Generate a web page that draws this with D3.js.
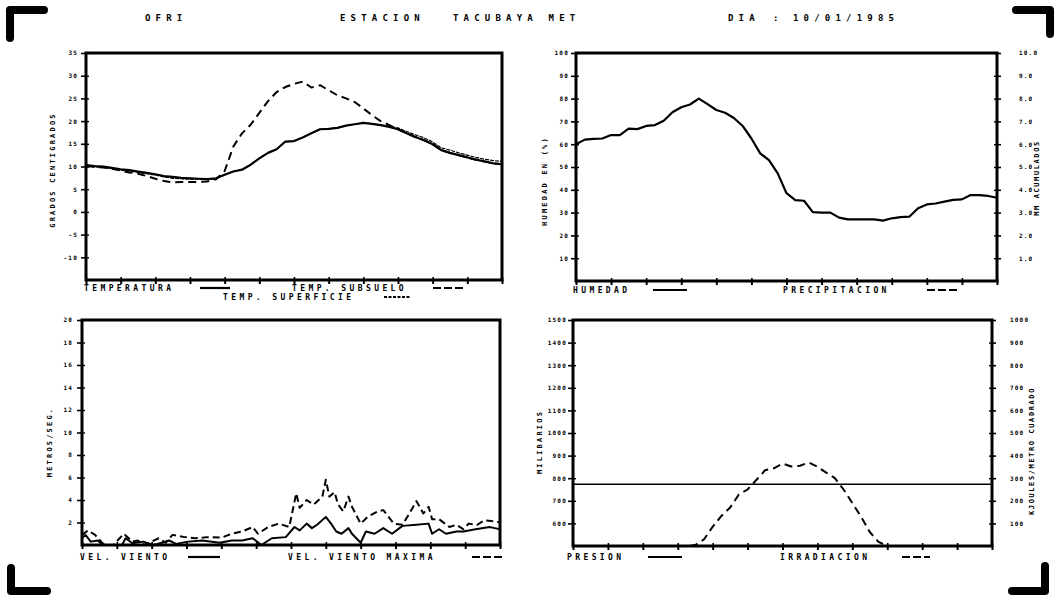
<!DOCTYPE html>
<html><head><meta charset="utf-8">
<script src="https://cdn.jsdelivr.net/npm/d3@7"></script>
<style>
body{margin:0;background:#fff}
svg text{font-family:"DejaVu Sans Mono",monospace;font-weight:bold;fill:#000}
</style></head><body>
<svg id="c" width="1059" height="603"></svg>
<script>
// ---------- DATA ----------
const header = ["OFRI", "ESTACION", "TACUBAYA MET", "DIA", ":", "10/01/1985"];
const hourTicks = [0,2,4,6,8,10,12,14,16,18,20,22,24];
const halfHours = [0,0.5,1,1.5,2,2.5,3,3.5,4,4.5,5,5.5,6,6.5,7,7.5,8,8.5,9,9.5,10,10.5,11,11.5,12,12.5,13,13.5,14,14.5,15,15.5,16,16.5,17,17.5,18,18.5,19,19.5,20,20.5,21,21.5,22,22.5,23,23.5,24];

// Temperatures (°C)
const tempTicks = [35,30,25,20,15,10,5,0,-5,-10];
const temperatura = [10.3,10.1,10.0,9.7,9.4,9.2,8.9,8.6,8.3,7.9,7.7,7.5,7.4,7.3,7.2,7.4,8.2,8.9,9.3,10.4,11.8,13.0,13.8,15.5,15.6,16.4,17.3,18.2,18.3,18.5,19.0,19.3,19.6,19.4,19.1,18.7,18.2,17.3,16.5,15.8,14.9,13.6,13.0,12.5,12.0,11.5,11.1,10.7,10.5];
const tempSuperficie = [10.0,9.9,9.8,9.5,9.2,9.0,8.7,8.4,8.1,7.7,7.4,7.3,7.2,7.2,7.1,7.3,8.2,8.9,9.3,10.4,11.8,13.0,13.8,15.5,15.6,16.4,17.3,18.2,18.3,18.5,19.0,19.3,19.6,19.4,19.1,18.9,18.5,17.7,17.0,16.3,15.4,14.1,13.6,13.0,12.5,12.0,11.6,11.3,11.1];
const tempSubsuelo = [10.1,9.9,9.8,9.5,9.1,8.7,8.4,7.9,7.3,6.8,6.5,6.6,6.6,6.6,6.7,7.2,9.0,14.4,17.3,19.2,21.8,24.4,26.4,27.5,28.2,28.7,27.4,27.9,26.8,25.7,25.0,24.2,22.8,21.3,20.0,19.1,18.2,17.3,16.5,15.8,14.9,13.6,13.0,12.5,12.0,11.5,11.1,10.7,10.5];

// Humidity (%) and precipitation (mm accumulated)
const humTicks = [100,90,80,70,60,50,40,30,20,10];
const precTicks = [10,9,8,7,6,5,4,3,2,1];
const humedad = [60.0,62.0,62.3,62.5,64.0,64.0,66.8,66.6,68.0,68.4,70.3,74.0,76.2,77.4,80.0,77.6,75.0,73.8,71.5,68.0,62.5,56.0,53.0,47.2,38.5,35.5,35.2,30.2,30.0,30.0,27.8,27.0,27.0,27.0,27.0,26.5,27.5,28.0,28.2,31.9,33.6,34.0,34.8,35.6,35.8,37.7,37.7,37.3,36.5];
const precipitacion = []; // no rain recorded

// Wind (m/s)
const windTicks = [20,18,16,14,12,10,8,6,4,2];
const vientoHoras = [0,0.2,0.5,0.9,1.2,2.3,2.5,2.9,3.5,4.1,4.6,5.0,5.4,6.1,6.9,7.9,8.6,9.2,9.8,10.3,10.9,11.7,12.2,12.5,12.9,13.2,13.5,14.0,14.3,14.6,14.9,15.3,15.5,16.0,16.3,16.8,17.3,17.8,18.4,19.2,19.9,20.1,20.5,20.9,21.5,21.9,22.6,23.4,23.7,24];
const velViento = [0.6,0.9,0.3,0.4,0,0,0.6,0.15,0.3,0,0.2,0.4,0.1,0.3,0.4,0.2,0.4,0.4,0.6,0,0.6,0.7,1.6,1.3,1.9,1.5,1.8,2.5,1.9,1.2,1.0,1.5,1.0,0.2,1.2,1.0,1.5,1.0,1.7,1.8,1.9,1.0,1.4,1.0,1.2,1.2,1.4,1.6,1.5,1.4];
const maxHoras = [0,0.35,0.75,1.1,1.3,1.8,2.4,2.9,3.2,3.6,4.4,4.8,5.2,5.9,6.5,7.2,8.0,8.6,9.2,9.8,10.1,10.7,11.3,11.9,12.3,12.5,12.9,13.3,13.8,14.0,14.2,14.5,14.7,15.0,15.3,15.5,16.0,16.4,17.0,17.3,17.9,18.4,18.8,19.2,19.6,19.9,20.1,20.5,21.1,21.5,21.9,22.2,22.7,23.1,23.7,24];
const velMaxima = [0.9,1.3,0.9,0.3,0,0,1.0,0.3,0.4,0,0.6,0.2,0.9,0.7,0.6,0.7,0.65,1.0,1.2,1.6,1.0,1.6,1.9,1.6,4.6,3.3,4.0,3.6,4.3,5.8,4.3,4.7,3.6,3.0,4.3,3.4,1.9,2.5,3.0,3.1,1.9,1.8,2.8,3.9,2.8,3.4,2.3,2.3,1.6,1.8,1.4,1.9,1.8,2.2,2.1,2.0];

// Pressure (mb) and irradiation (kJ/m2)
const presTicks = [1500,1400,1300,1200,1100,1000,900,800,700,600];
const irrTicks = [1000,900,800,700,600,500,400,300,200,100];
const presion = [773,773,773,773,773,773,773,773,773,773,773,773,773];
const irradiacion = [0,0,0,0,0,0,0,0,0,0,0,0,0,0,4,29,85,133,170,228,250,292,335,344,365,352,355,370,351,325,300,250,190,130,62,18,0,0,0,0,0,0,0,0,0,0,0,0,0];

// ---------- DRAW ----------
const svg = d3.select('#c');

function txt(x, y, s, size, ls, anchor) {
  return svg.append('text').attr('x', x).attr('y', y).text(s)
    .attr('font-size', size).attr('letter-spacing', ls)
    .attr('text-anchor', anchor || 'start');
}
function vtxt(x, y, s, size, ls) {
  return svg.append('text').attr('transform', `translate(${x},${y}) rotate(-90)`)
    .attr('text-anchor', 'middle').attr('dominant-baseline', 'central')
    .attr('font-size', size).attr('letter-spacing', ls).text(s);
}

// corner marks
const corners = [
  [[10,38],[10,10],[44,10]],
  [[1016,10],[1050,10],[1050,34]],
  [[11,568],[11,591],[47,591]],
  [[1012,591],[1045,591],[1045,566]]
];
corners.forEach(c => svg.append('path').attr('d', d3.line()(c))
  .attr('fill','none').attr('stroke','#000').attr('stroke-width',8).attr('stroke-linejoin','round').attr('stroke-linecap','round'));

// header
const hx = [145, 340, 453, 728, 773, 793];
header.forEach((h, i) => txt(hx[i], 21, h, 9, 5.2));

function panel(p) {
  const x = d3.scaleLinear().domain([0, 24]).range([p.x0, p.x1]);
  const yL = d3.scaleLinear().domain(p.yDom).range([p.y1, p.y0]);
  // left axis
  const gl = svg.append('g').attr('transform', `translate(${p.x0},0)`)
    .call(d3.axisLeft(yL).tickValues(p.ticks).tickSize(5).tickPadding(p.pad).tickFormat(d => String(d)));
  gl.select('.domain').remove();
  gl.selectAll('line').attr('stroke', '#000').attr('stroke-width', 1.6);
  gl.selectAll('text').attr('font-size', 6).attr('letter-spacing', 1.2)
    .style('font-family', '"DejaVu Sans Mono",monospace').style('font-weight', 'bold');
  // inner small ticks
  const gi = svg.append('g').attr('transform', `translate(${p.x0},0)`)
    .call(d3.axisRight(yL).tickValues(p.ticks).tickSize(3).tickFormat(''));
  gi.select('.domain').remove();
  gi.selectAll('line').attr('stroke', '#000').attr('stroke-width', 1.4);
  let yR = null;
  if (p.rDom) {
    yR = d3.scaleLinear().domain(p.rDom).range([p.y1, p.y0]);
    const gr = svg.append('g').attr('transform', `translate(${p.x1},0)`)
      .call(d3.axisRight(yR).tickValues(p.rTicks).tickSize(4).tickPadding(p.rPad).tickFormat(p.rFmt));
    gr.select('.domain').remove();
    gr.selectAll('line').attr('stroke', '#000').attr('stroke-width', 1.6);
    gr.selectAll('text').attr('font-size', 6).attr('letter-spacing', 1.2)
      .style('font-family', '"DejaVu Sans Mono",monospace').style('font-weight', 'bold');
    const gri = svg.append('g').attr('transform', `translate(${p.x1},0)`)
      .call(d3.axisLeft(yR).tickValues(p.rTicks).tickSize(3).tickFormat(''));
    gri.select('.domain').remove();
    gri.selectAll('line').attr('stroke', '#000').attr('stroke-width', 1.4);
  }
  // bottom axis ticks
  const gb = svg.append('g').attr('transform', `translate(0,${p.y1})`)
    .call(d3.axisBottom(x).tickValues(hourTicks).tickSize(4).tickFormat(''));
  gb.select('.domain').remove();
  gb.selectAll('line').attr('stroke', '#000').attr('stroke-width', 2);
  const gbi = svg.append('g').attr('transform', `translate(0,${p.y1})`)
    .call(d3.axisTop(x).tickValues(hourTicks).tickSize(3).tickFormat(''));
  gbi.select('.domain').remove();
  gbi.selectAll('line').attr('stroke', '#000').attr('stroke-width', 1.6);

  // series
  p.series.forEach(s => {
    const ys = s.right ? yR : yL;
    const pts = d3.zip(s.xs, s.ys);
    if (!pts.length) return;
    svg.append('path').datum(pts)
      .attr('d', d3.line().x(d => x(d[0])).y(d => ys(d[1])))
      .attr('fill', 'none').attr('stroke', '#000')
      .attr('stroke-width', s.w).attr('stroke-dasharray', s.dash || null)
      .attr('stroke-linejoin', 'round');
  });
  // frame
  svg.append('rect').attr('x', p.x0).attr('y', p.y0)
    .attr('width', p.x1 - p.x0).attr('height', p.y1 - p.y0)
    .attr('fill', 'none').attr('stroke', '#000').attr('stroke-width', 3);
  // titles
  vtxt(p.tx, p.ty, p.title, 7, 2.2);
  if (p.rTitle) vtxt(p.rtx, p.rty, p.rTitle, 7, 1.6);
  // legends
  p.legend.forEach(l => {
    txt(l.x, l.y + 3, l.label, 8, 3.4);
    svg.append('line').attr('x1', l.sx0).attr('x2', l.sx1).attr('y1', l.y).attr('y2', l.y)
      .attr('stroke', '#000').attr('stroke-width', 2.2).attr('stroke-dasharray', l.dash || null);
  });
}

panel({
  x0: 86, x1: 502, y0: 53, y1: 280, yDom: [-15, 35], ticks: tempTicks, pad: 3,
  title: 'GRADOS CENTIGRADOS', tx: 53, ty: 170,
  series: [
    { xs: halfHours, ys: tempSuperficie, w: 1.2, dash: '4,1' },
    { xs: halfHours, ys: temperatura, w: 2.2 },
    { xs: halfHours, ys: tempSubsuelo, w: 2, dash: '8,5' }
  ],
  legend: [
    { label: 'TEMPERATURA', x: 84, y: 288, sx0: 200, sx1: 230 },
    { label: 'TEMP. SUBSUELO', x: 292, y: 288, sx0: 433, sx1: 463, dash: '8,3' },
    { label: 'TEMP. SUPERFICIE', x: 223, y: 297, sx0: 384, sx1: 410, dash: '3,1.5' }
  ]
});

panel({
  x0: 576, x1: 997, y0: 53, y1: 281, yDom: [0, 100], ticks: humTicks, pad: 2,
  rDom: [0, 10], rTicks: precTicks, rPad: 18, rFmt: d3.format('.1f'),
  title: 'HUMEDAD EN (%)', tx: 545, ty: 181,
  rTitle: 'MM ACUMULADOS', rtx: 1037, rty: 178,
  series: [
    { xs: halfHours, ys: humedad, w: 2.2 },
    { xs: halfHours, ys: precipitacion, w: 2, dash: '8,5', right: true }
  ],
  legend: [
    { label: 'HUMEDAD', x: 573, y: 290, sx0: 653, sx1: 687 },
    { label: 'PRECIPITACION', x: 783, y: 290, sx0: 927, sx1: 958, dash: '8,3' }
  ]
});

panel({
  x0: 82, x1: 500, y0: 320, y1: 545, yDom: [0, 20], ticks: windTicks, pad: 4,
  title: 'METROS/SEG.', tx: 50, ty: 442,
  series: [
    { xs: vientoHoras, ys: velViento, w: 2 },
    { xs: maxHoras, ys: velMaxima, w: 2, dash: '7,4' }
  ],
  legend: [
    { label: 'VEL. VIENTO', x: 80, y: 557, sx0: 188, sx1: 220 },
    { label: 'VEL. VIENTO MAXIMA', x: 288, y: 557, sx0: 472, sx1: 503, dash: '8,3' }
  ]
});

panel({
  x0: 573, x1: 992, y0: 320, y1: 546, yDom: [500, 1500], ticks: presTicks, pad: 1,
  rDom: [0, 1000], rTicks: irrTicks, rPad: 14, rFmt: d => String(d),
  title: 'MILIBARIOS', tx: 540, ty: 442,
  rTitle: 'KJOULES/METRO CUADRADO', rtx: 1032, rty: 451,
  series: [
    { xs: hourTicks, ys: presion, w: 1.4 },
    { xs: halfHours, ys: irradiacion, w: 2, dash: '8,5', right: true }
  ],
  legend: [
    { label: 'PRESION', x: 567, y: 557, sx0: 648, sx1: 682 },
    { label: 'IRRADIACION', x: 780, y: 557, sx0: 902, sx1: 930, dash: '8,3' }
  ]
});
</script>
</body></html>
